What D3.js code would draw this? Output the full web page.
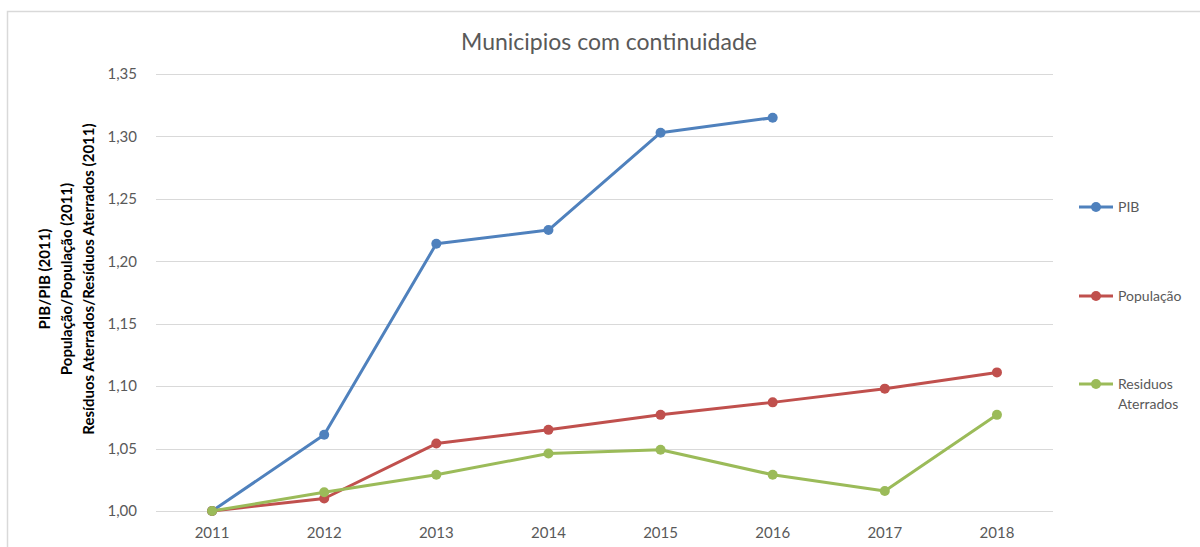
<!DOCTYPE html>
<html>
<head>
<meta charset="utf-8">
<script src="https://cdn.jsdelivr.net/npm/d3@7"></script>
<style>
  body { margin: 0; background: #fff; }
  svg { display: block; font-family: Lato, "Open Sans", sans-serif; }
</style>
</head>
<body>
<div id="chart"></div>
<script>
const years = ['2011', '2012', '2013', '2014', '2015', '2016', '2017', '2018'];
const pib = [1.000, 1.061, 1.214, 1.225, 1.303, 1.315, null, null];
const populacao = [1.000, 1.010, 1.054, 1.065, 1.077, 1.087, 1.098, 1.111];
const residuos = [1.000, 1.015, 1.029, 1.046, 1.049, 1.029, 1.016, 1.077];
const yTicks = [1.00, 1.05, 1.10, 1.15, 1.20, 1.25, 1.30, 1.35];

const series = [
  { name: ['PIB'], values: pib, color: '#4F81BD', ly: 207 },
  { name: ['População'], values: populacao, color: '#C0504D', ly: 296 },
  { name: ['Residuos', 'Aterrados'], values: residuos, color: '#9BBB59', ly: 384 }
];

const width = 1200, height = 547;
const margin = { left: 156, right: 1053, top: 74, bottom: 511 };

const svg = d3.select('#chart').append('svg')
  .attr('width', width)
  .attr('height', height);

// chart area border
svg.append('rect')
  .attr('x', 7.5).attr('y', 11.5)
  .attr('width', 1250).attr('height', 600)
  .attr('fill', 'none')
  .attr('stroke', '#d9d9d9')
  .attr('stroke-width', 1.5);

const x = d3.scaleBand()
  .domain(years)
  .range([margin.left, margin.right]);

const y = d3.scaleLinear()
  .domain([1.00, 1.35])
  .range([margin.bottom, margin.top]);

const fmt = v => d3.format('.2f')(v).replace('.', ',');

// gridlines
svg.append('g')
  .selectAll('line')
  .data(yTicks)
  .join('line')
  .attr('x1', margin.left).attr('x2', margin.right)
  .attr('y1', d => Math.round(y(d)) + 0.5)
  .attr('y2', d => Math.round(y(d)) + 0.5)
  .attr('stroke', '#d9d9d9')
  .attr('stroke-width', 1);

// y tick labels
svg.append('g')
  .selectAll('text')
  .data(yTicks)
  .join('text')
  .attr('x', 137)
  .attr('y', d => y(d))
  .attr('dy', '0.35em')
  .attr('text-anchor', 'end')
  .attr('font-size', 15)
  .attr('fill', '#595959')
  .text(fmt);

// x tick labels
svg.append('g')
  .selectAll('text')
  .data(years)
  .join('text')
  .attr('x', d => x(d) + x.bandwidth() / 2)
  .attr('y', 538)
  .attr('text-anchor', 'middle')
  .attr('font-size', 15)
  .attr('fill', '#595959')
  .text(d => d);

// title
svg.append('text')
  .attr('x', 609)
  .attr('y', 50)
  .attr('text-anchor', 'middle')
  .attr('font-size', 23)
  .attr('fill', '#595959')
  .text('Municipios com continuidade');

// y axis title
const yTitle = svg.append('text')
  .attr('transform', 'translate(63,279) rotate(-90)')
  .attr('text-anchor', 'middle')
  .attr('font-size', 15)
  .attr('font-weight', 'bold')
  .attr('fill', '#000');
['PIB/PIB (2011)', 'População/População (2011)', 'Resíduos Aterrados/Resíduos Aterrados (2011)']
  .forEach((t, i) => {
    yTitle.append('tspan')
      .attr('x', 0)
      .attr('dy', i === 0 ? '-0.85em' : '1.45em')
      .text(t);
  });

const line = d3.line()
  .defined(d => d != null)
  .x((d, i) => x(years[i]) + x.bandwidth() / 2)
  .y(d => y(d));

series.forEach(s => {
  const g = svg.append('g');
  g.append('path')
    .datum(s.values)
    .attr('fill', 'none')
    .attr('stroke', s.color)
    .attr('stroke-width', 3)
    .attr('stroke-linejoin', 'round')
    .attr('d', line);
  g.selectAll('circle')
    .data(s.values.map((v, i) => ({ v, i })).filter(d => d.v != null))
    .join('circle')
    .attr('cx', d => x(years[d.i]) + x.bandwidth() / 2)
    .attr('cy', d => y(d.v))
    .attr('r', 5)
    .attr('fill', s.color);
});

// legend
series.forEach(s => {
  const g = svg.append('g').attr('transform', `translate(1079,${s.ly})`);
  g.append('line')
    .attr('x1', 0).attr('x2', 34)
    .attr('stroke', s.color).attr('stroke-width', 3);
  g.append('circle')
    .attr('cx', 17).attr('r', 5)
    .attr('fill', s.color);
  const t = g.append('text')
    .attr('x', 39)
    .attr('font-size', 14)
    .attr('fill', '#595959');
  s.name.forEach((n, i) => {
    t.append('tspan').attr('x', 39).attr('dy', i === 0 ? '0.35em' : '1.4em').text(n);
  });
});
</script>
</body>
</html>
